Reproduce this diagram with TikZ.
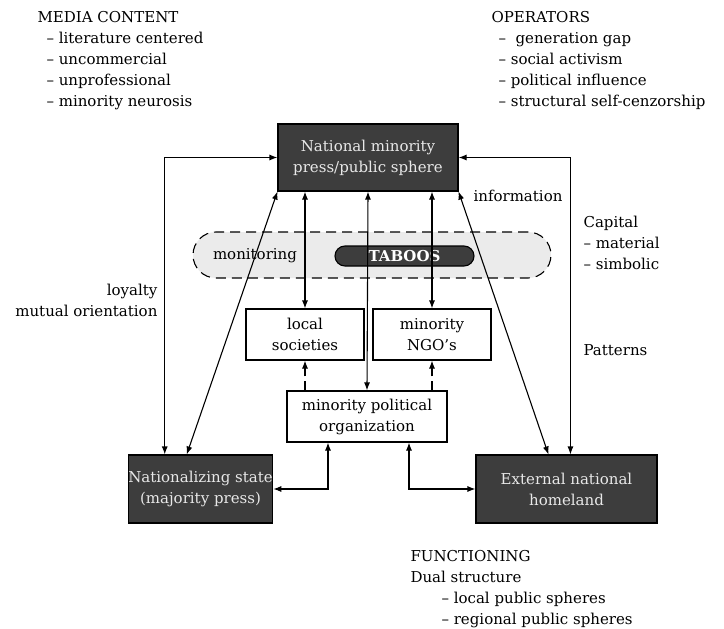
\documentclass[tikz,border=0pt]{standalone}
\usepackage{fontspec}
\setmainfont{DejaVu Serif}
\usetikzlibrary{arrows.meta, positioning}
\definecolor{boxdark}{HTML}{3D3D3D}
\definecolor{boxtext}{HTML}{E8E8E8}
\definecolor{bandfill}{HTML}{EBEBEB}

\begin{document}
\begin{tikzpicture}[x=1pt, y=-1pt, font=\fontsize{15}{21}\selectfont, line width=1.1pt,
          dark/.style={draw=black, fill=boxdark, text=boxtext, align=center, inner sep=0pt},
          plain/.style={draw=black, fill=white, align=center, inner sep=0pt},
          band/.style={draw=black, fill=bandfill, dash pattern=on 10pt off 6pt,
                       rounded corners=23pt, minimum width=358pt, minimum height=46pt},
          both/.style={{Latex[length=8pt,width=6pt]}-{Latex[length=8pt,width=6pt]}},
          one/.style={-{Latex[length=8pt,width=6pt]}, dash pattern=on 9pt off 5pt},
          lbl/.style={inner sep=0pt}]
        \useasboundingbox (0,0) rectangle (724,629);
        \node[band] (band) at (372,255) {};
        \node[inner sep=0pt, draw=black, fill=boxdark, text=white, rounded corners=10pt,
              minimum width=139pt, minimum height=20pt, font=\fontsize{15}{21}\selectfont\bfseries]
              (taboo) at (404.5,256) {TABOOS};
        \node[lbl] (monit) at (255,256) {monitoring};
        \node[dark, minimum width=180pt, minimum height=67pt] (press) at (368,157.5)
          {National minority\\ press/public sphere};
        \node[plain, minimum width=118pt, minimum height=51pt] (locsoc) at (305,334.5)
          {local\\ societies};
        \node[plain, minimum width=118pt, minimum height=51pt] (ngo) at (432,334.5)
          {minority\\ NGO's};
        \node[plain, minimum width=160pt, minimum height=51pt] (mpo) at (367,416.5)
          {minority political\\ organization};
        \node[dark, minimum width=125pt, minimum height=68pt] (state) at (200.5,489)
          {Nationalizing state\\ (majority press)};
        \node[dark, minimum width=181pt, minimum height=68pt] (home) at (566.5,489)
          {External national\\ homeland};
        % connectors
        \draw[both] ([xshift=37pt]state.north west) |- (press.west);
        \draw[both] ([xshift=59pt]state.north west) -- (press.south west);
        \draw[both] (press.south -| locsoc.north) -- (locsoc.north);
        \draw[both] (press.south) -- (mpo.north);
        \draw[both] (press.south -| ngo.north) -- (ngo.north);
        \draw[both] (press.south east) -- ([xshift=73pt]home.north west);
        \draw[both] (press.east) -| ([xshift=95pt]home.north west);
        \draw[one] (locsoc.south |- mpo.north) -- (locsoc.south);
        \draw[one] (ngo.south |- mpo.north) -- (ngo.south);
        \draw[both] ([xshift=-39pt]mpo.south) |- (state.east);
        \draw[both] ([xshift=42pt]mpo.south) |- (home.west);
        % labels
        \node[lbl, anchor=east, align=right] (loyal) at (158,300) {loyalty\\ mutual orientation};
        \node[lbl, anchor=west] (info) at (473,196) {information};
        \node[lbl, anchor=west, align=left] (capital) at (583,243)
          {Capital\\ -- material\\ -- simbolic};
        \node[lbl, anchor=west] (pattern) at (583,350) {Patterns};
        \node[lbl, anchor=west, align=left] (media) at (37,60.5)
          {MEDIA CONTENT\\ \hspace*{9pt}-- literature centered\\ \hspace*{9pt}-- uncommercial\\
           \hspace*{9pt}-- unprofessional\\ \hspace*{9pt}-- minority neurosis};
        \node[lbl, anchor=west, align=left] (oper) at (491,60.5)
          {OPERATORS\\ \hspace*{7pt}--\ \ generation gap\\ \hspace*{7pt}-- social activism\\
           \hspace*{7pt}-- political influence\\ \hspace*{7pt}-- structural self-cenzorship};
        \node[lbl, anchor=west, align=left] (funct) at (410,589.5)
          {FUNCTIONING\\ Dual structure\\ \hspace*{31pt}-- local public spheres\\
           \hspace*{31pt}-- regional public spheres};
      \end{tikzpicture}
\end{document}
